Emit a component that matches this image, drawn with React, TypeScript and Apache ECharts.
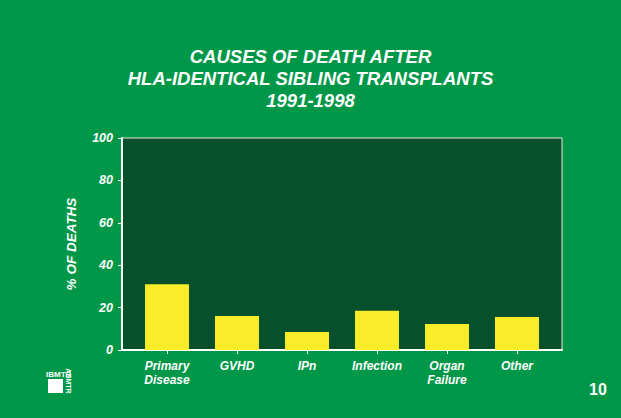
import React, { useEffect, useRef } from "react";
import * as echarts from "echarts";

const categories = ["Primary\nDisease", "GVHD", "IPn", "Infection", "Organ\nFailure", "Other"];
const deathPercent = [31, 16, 8.5, 18.5, 12.3, 15.6];
const titleLines = ["CAUSES OF DEATH AFTER", "HLA-IDENTICAL SIBLING TRANSPLANTS", "1991-1998"];
const yAxisName = "% OF DEATHS";
const pageNumber = "10";

const FONT = "'Liberation Sans', Arial, Helvetica, sans-serif";

export default function App() {
  const ref = useRef<HTMLDivElement>(null);
  useEffect(() => {
    if (!ref.current) return;
    const chart = echarts.init(ref.current, null, { renderer: "svg" });
    const labelStyle = {
      color: "#ffffff",
      fontFamily: FONT,
      fontWeight: "bold",
      fontStyle: "italic",
    };
    chart.setOption({
      animation: false,
      backgroundColor: "#009748",
      title: {
        text: titleLines.join("\n"),
        left: "center",
        top: 40,
        textStyle: { ...labelStyle, fontSize: 18.5, lineHeight: 22 },
      },
      grid: [
        {
          left: 122,
          right: 59,
          top: 138,
          bottom: 68,
          show: true,
          backgroundColor: "#06502B",
          borderColor: "#e6e6e6",
          borderWidth: 1,
        },
        { left: 132, right: 69, top: 138, bottom: 68 },
      ],
      xAxis: [
        {
          type: "value",
          gridIndex: 0,
          min: 0,
          max: 1,
          axisLine: { show: true, lineStyle: { color: "#ffffff", width: 2 } },
          axisTick: { show: false },
          axisLabel: { show: false },
          splitLine: { show: false },
        },
        {
          type: "category",
          gridIndex: 1,
          data: categories,
          axisLine: { show: false },
          axisTick: { show: true, alignWithLabel: true, length: 4, lineStyle: { color: "#ffffff" } },
          axisLabel: { ...labelStyle, fontSize: 12, lineHeight: 14, margin: 9, interval: 0 },
        },
      ],
      yAxis: [
        {
          type: "value",
          gridIndex: 0,
          min: 0,
          max: 100,
          interval: 20,
          name: yAxisName,
          nameLocation: "middle",
          nameGap: 44,
          nameTextStyle: { ...labelStyle, fontSize: 13.5 },
          splitLine: { show: false },
          axisLine: { show: true, lineStyle: { color: "#ffffff", width: 2 } },
          axisTick: { show: true, length: 4, lineStyle: { color: "#ffffff" } },
          axisLabel: { ...labelStyle, fontSize: 12.5, margin: 9 },
        },
        {
          type: "value",
          gridIndex: 1,
          min: 0,
          max: 100,
          show: false,
          splitLine: { show: false },
        },
      ],
      series: [
        {
          type: "bar",
          xAxisIndex: 1,
          yAxisIndex: 1,
          data: deathPercent,
          barWidth: 44,
          itemStyle: { color: "#F9EC28" },
        },
      ],
      graphic: [
        {
          type: "text",
          left: 46,
          top: 370,
          style: { text: "IBMTR", fill: "#ffffff", font: `bold 8px ${FONT}` },
        },
        {
          type: "rect",
          shape: { x: 48, y: 379, width: 15, height: 14 },
          style: { fill: "#ffffff" },
        },
        {
          type: "text",
          x: 68,
          y: 381,
          rotation: -Math.PI / 2,
          style: {
            text: "ABMTR",
            fill: "#ffffff",
            font: `bold 7px ${FONT}`,
            align: "center",
            verticalAlign: "middle",
          },
        },
        {
          type: "text",
          x: 598,
          y: 389,
          style: {
            text: pageNumber,
            fill: "#ffffff",
            font: `bold 16px ${FONT}`,
            align: "center",
            verticalAlign: "middle",
          },
        },
      ],
    });
    return () => chart.dispose();
  }, []);
  return <div ref={ref} style={{ width: 621, height: 418, position: "fixed", left: 0, top: 0 }} />;
}
